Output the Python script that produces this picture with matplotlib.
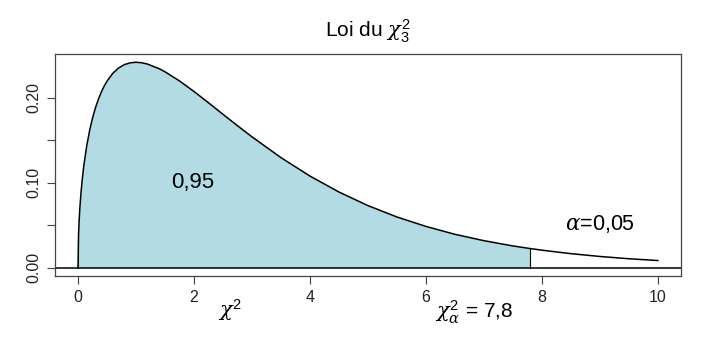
import matplotlib
matplotlib.use("Agg")
import matplotlib.pyplot as plt

plt.rcParams['font.family'] = ['Liberation Sans', 'DejaVu Sans']
plt.rcParams['mathtext.fontset'] = 'custom'
plt.rcParams['mathtext.rm'] = 'Liberation Sans'
plt.rcParams['mathtext.it'] = 'DejaVu Serif:italic'

# density of chi2 with 3 df
x = [0.0, 0.01, 0.02, 0.03, 0.05, 0.07, 0.1, 0.15, 0.2, 0.25, 0.3, 0.35, 0.4,
     0.45, 0.5, 0.6, 0.7, 0.8, 0.9, 1.0, 1.1, 1.2, 1.4, 1.5, 1.75, 2.0, 2.25,
     2.5, 2.75, 3.0, 3.5, 4.0, 4.5, 5.0, 5.5, 6.0, 6.5, 7.0, 7.5, 7.8,
     8.0, 8.5, 9.0, 9.5, 10.0]
dens = [0.0, 0.0397, 0.0559, 0.0681, 0.0870, 0.1019, 0.1200, 0.1433, 0.1614,
        0.1760, 0.1881, 0.1981, 0.2066, 0.2137, 0.2197, 0.2289, 0.2352, 0.2392,
        0.2413, 0.2420, 0.2414, 0.2398, 0.2344, 0.2308, 0.2200, 0.2076, 0.1943,
        0.1807, 0.1673, 0.1542, 0.1297, 0.1080, 0.0892, 0.0732, 0.0598, 0.0487,
        0.0394, 0.0319, 0.0257, 0.0226, 0.0207, 0.0166, 0.0133, 0.0106, 0.0085]
crit = 7.8
xticks = [0, 2, 4, 6, 8, 10]
yticks = [0.0, 0.05, 0.10, 0.15, 0.20]
ylabels = ['0.00', '', '0.10', '', '0.20']

fig = plt.figure(figsize=(7.09, 3.44), dpi=100)
ax = fig.add_axes([0.0773, 0.1977, 0.8832, 0.6453])

xs = [v for v in x if v <= crit]
ys = [d for v, d in zip(x, dens) if v <= crit]
ax.fill_between(xs, 0, ys, color='#b3dbe3', lw=0)
ax.plot([0, 0], [0, dens[1]], color='gray', lw=0.8)
ax.plot([crit, crit], [0, ys[-1]], color='black', lw=0.8)
ax.plot(x, dens, color='black', lw=1.1)
ax.axhline(0, color='black', lw=1.1)

ax.set_xlim(-0.4, 10.4)
ax.set_ylim(-0.0097, 0.2517)
ax.set_xticks(xticks)
ax.set_xticklabels([str(t) for t in xticks])
ax.set_yticks(yticks)
ax.set_yticklabels(ylabels, rotation=90, va='center')
ax.tick_params(length=6, width=0.8, labelsize=11.5, color='#444444',
               labelcolor='#222222', pad=4)
for s in ax.spines.values():
    s.set_color('#444444')
    s.set_linewidth(0.9)

ax.set_title(r'Loi du $\chi^2_3$', fontsize=15, pad=12)
ax.text(1.98, 0.10, '0,95', fontsize=16, ha='center', va='center')
ax.text(9.0, 0.051, r'$\alpha$=0,05', fontsize=15.5, ha='center', va='center')
fig.text(230 / 709, 1 - 310 / 344, r'$\chi^2$', fontsize=15, ha='center', va='center')
fig.text(474 / 709, 1 - 312 / 344, r'$\chi^2_\alpha$ = 7,8', fontsize=15,
         ha='center', va='center')

fig.savefig('out.png', dpi=100)
